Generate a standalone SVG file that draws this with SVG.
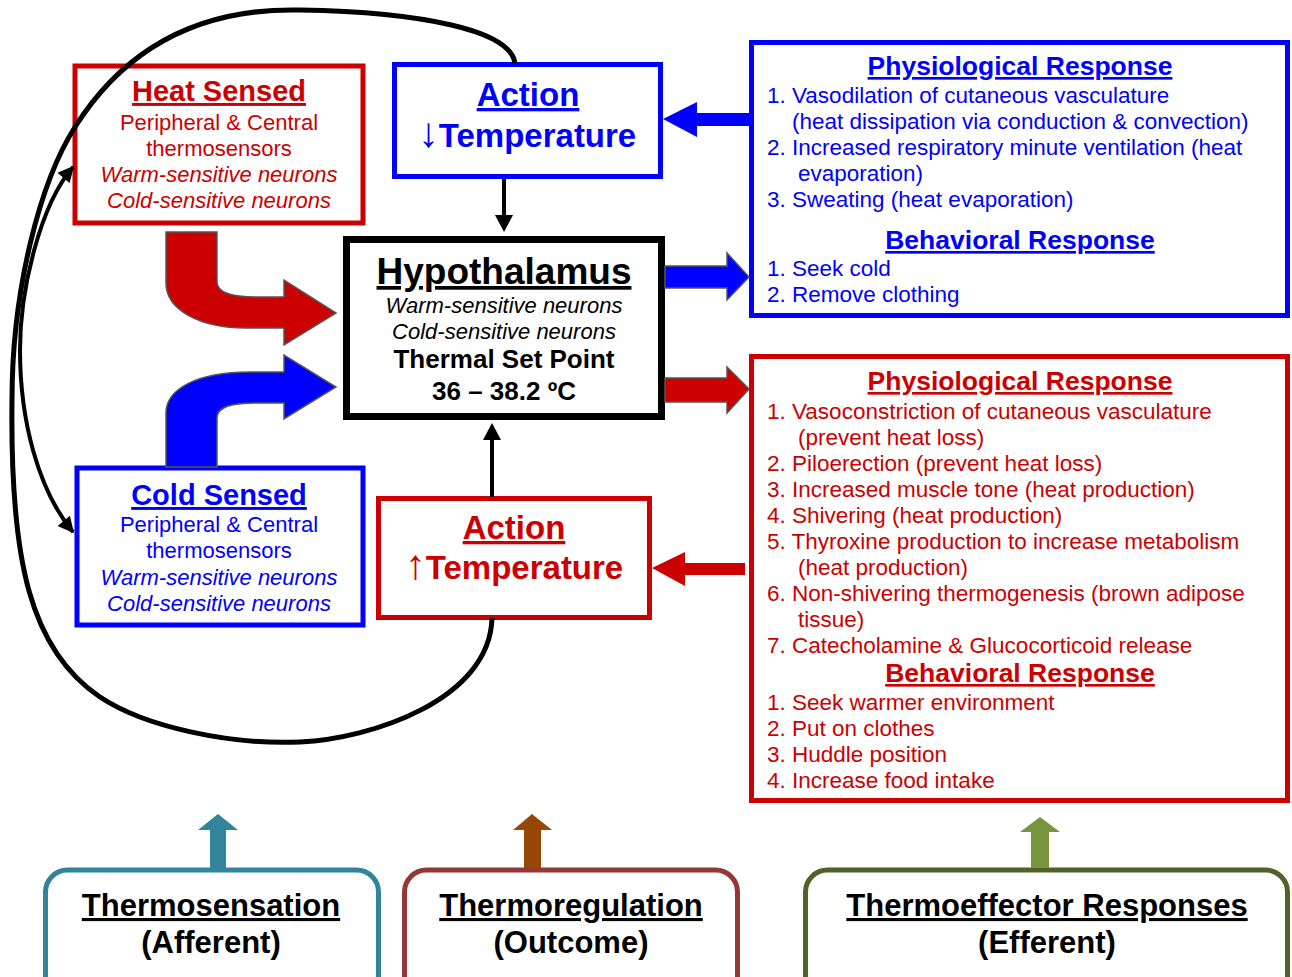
<svg xmlns="http://www.w3.org/2000/svg" width="1292" height="977" viewBox="0 0 1292 977">
<defs>
<style>
text{font-family:"Liberation Sans",Arial,sans-serif;}
.c{text-anchor:middle;}
.bd{font-weight:bold;}
.it{font-style:italic;}
.u{text-decoration:underline;text-decoration-thickness:3px;}
.red{fill:#CC0000;}
.blue{fill:#0000FF;}
.blk{fill:#000000;}
.box{fill:#FFFFFF;stroke-width:5;}
.rb{stroke:#CC0000;}
.bb{stroke:#0000FF;}
.t22{font-size:22px;}
.t225{font-size:22.5px;}
.h26{font-size:26.5px;font-weight:bold;text-decoration:underline;text-decoration-thickness:3px;}
.arw{font-family:"Liberation Sans",Arial,sans-serif;font-weight:bold;font-size:42px;}
.blk-arrow{stroke:#555555;stroke-width:1.5;stroke-linejoin:miter;}
.bot{fill:#FFFFFF;stroke-width:5;}
.bt{font-size:31px;font-weight:bold;fill:#000;text-anchor:middle;}
</style>
<marker id="ah" viewBox="0 0 10 10" refX="9" refY="5" markerWidth="18" markerHeight="16" markerUnits="userSpaceOnUse" orient="auto-start-reverse">
<path d="M0,0 L10,5 L0,10 Z" fill="#000"/>
</marker>
</defs>
<rect width="1292" height="977" fill="#FFFFFF"/>

<g id="heat-sensed">
<rect class="box rb" x="75" y="66" width="288" height="157"/>
<text class="c bd u red" x="219" y="101" font-size="29">Heat Sensed</text>
<text class="c red t22" x="219" y="130">Peripheral &amp; Central</text>
<text class="c red t22" x="219" y="156">thermosensors</text>
<text class="c red t22 it" x="219" y="182">Warm-sensitive neurons</text>
<text class="c red t22 it" x="219" y="208">Cold-sensitive neurons</text>
</g>

<g id="cold-sensed">
<rect class="box bb" x="77" y="468" width="286" height="157"/>
<text class="c bd u blue" x="219" y="505" font-size="29">Cold Sensed</text>
<text class="c blue t22" x="219" y="532">Peripheral &amp; Central</text>
<text class="c blue t22" x="219" y="558">thermosensors</text>
<text class="c blue t22 it" x="219" y="585">Warm-sensitive neurons</text>
<text class="c blue t22 it" x="219" y="611">Cold-sensitive neurons</text>
</g>

<g id="action-down">
<rect class="box bb" x="394.5" y="64.5" width="266" height="112"/>
<text class="c bd u blue" x="528" y="106" font-size="33">Action</text>
<text class="c bd blue" x="527" y="147" font-size="33"><tspan class="arw">↓</tspan>Temperature</text>
</g>

<g id="action-up">
<rect class="box rb" x="378.5" y="498.5" width="271" height="119"/>
<text class="c bd u red" x="514" y="539" font-size="33">Action</text>
<text class="c bd red" x="514" y="579" font-size="33"><tspan class="arw">↑</tspan>Temperature</text>
</g>

<g id="hypothalamus">
<rect x="346.5" y="239.5" width="315" height="177" fill="#FFFFFF" stroke="#000" stroke-width="7"/>
<text class="c bd u blk" x="504" y="284" font-size="37">Hypothalamus</text>
<text class="c it t22 blk" x="504" y="313">Warm-sensitive neurons</text>
<text class="c it t22 blk" x="504" y="339">Cold-sensitive neurons</text>
<text class="c bd blk" x="504" y="368" font-size="26">Thermal Set Point</text>
<text class="c bd blk" x="504" y="400" font-size="26">36 – 38.2 ºC</text>
</g>

<g id="cooling-response">
<rect class="box bb" x="751.5" y="42.5" width="536" height="273"/>
<text class="c h26 blue" x="1020" y="75">Physiological Response</text>
<text class="blue t225" x="767" y="103">1. Vasodilation of cutaneous vasculature</text>
<text class="blue t225" x="792" y="129">(heat dissipation via conduction &amp; convection)</text>
<text class="blue t225" x="767" y="155">2. Increased respiratory minute ventilation (heat</text>
<text class="blue t225" x="798" y="181">evaporation)</text>
<text class="blue t225" x="767" y="207">3. Sweating (heat evaporation)</text>
<text class="c h26 blue" x="1020" y="249">Behavioral Response</text>
<text class="blue t225" x="767" y="276">1. Seek cold</text>
<text class="blue t225" x="767" y="302">2. Remove clothing</text>
</g>

<g id="warming-response">
<rect class="box rb" x="751.5" y="356.5" width="536" height="444"/>
<text class="c h26 red" x="1020" y="390">Physiological Response</text>
<text class="red t225" x="767" y="419">1. Vasoconstriction of cutaneous vasculature</text>
<text class="red t225" x="798" y="445">(prevent heat loss)</text>
<text class="red t225" x="767" y="471">2. Piloerection (prevent heat loss)</text>
<text class="red t225" x="767" y="497">3. Increased muscle tone (heat production)</text>
<text class="red t225" x="767" y="523">4. Shivering (heat production)</text>
<text class="red t225" x="767" y="549">5. Thyroxine production to increase metabolism</text>
<text class="red t225" x="798" y="575">(heat production)</text>
<text class="red t225" x="767" y="601">6. Non-shivering thermogenesis (brown adipose</text>
<text class="red t225" x="798" y="627">tissue)</text>
<text class="red t225" x="767" y="653">7. Catecholamine &amp; Glucocorticoid release</text>
<text class="c h26 red" x="1020" y="682">Behavioral Response</text>
<text class="red t225" x="767" y="710">1. Seek warmer environment</text>
<text class="red t225" x="767" y="736">2. Put on clothes</text>
<text class="red t225" x="767" y="762">3. Huddle position</text>
<text class="red t225" x="767" y="788">4. Increase food intake</text>
</g>

<g id="thermosensation">
<rect class="bot" x="45.5" y="870" width="333" height="130" rx="22" stroke="#31849B"/>
<text class="bt u" x="211" y="916">Thermosensation</text>
<text class="bt" x="211" y="953">(Afferent)</text>
</g>

<g id="thermoregulation">
<rect class="bot" x="404.5" y="870" width="333" height="130" rx="22" stroke="#953735"/>
<text class="bt u" x="571" y="916">Thermoregulation</text>
<text class="bt" x="571" y="953">(Outcome)</text>
</g>

<g id="thermoeffector">
<rect class="bot" x="805.5" y="870" width="482" height="130" rx="22" stroke="#4F6228"/>
<text class="bt u" x="1047" y="916">Thermoeffector Responses</text>
<text class="bt" x="1047" y="953">(Efferent)</text>
</g>

<g id="connectors">
<path d="M515,64 C512,30 420,12 300,10 C210,8 130,40 75,127 C40,182 12,290 12,400 C10,560 30,650 100,697 C145,727 230,745 300,742 C370,739 490,700 492,618" fill="none" stroke="#000" stroke-width="5"/>
<path d="M73,167 C40,205 20,290 20,350 C20,420 38,490 73,532" fill="none" stroke="#000" stroke-width="4" marker-start="url(#ah)" marker-end="url(#ah)"/>
<line x1="504" y1="179" x2="504" y2="216" stroke="#000" stroke-width="4"/>
<polygon points="495,215 513,215 504,232" fill="#000"/>
<line x1="492" y1="497" x2="492" y2="438" stroke="#000" stroke-width="4"/>
<polygon points="483,440 501,440 492,423" fill="#000"/>
<path class="blk-arrow" d="M166,232 L217,232 L217,282 C217,292 230,297 257,297 L284,297 L284,280 L336,313 L284,345 L284,328 L246,328 C200,328 166,310 166,283 Z" fill="#CC0000"/>
<path class="blk-arrow" d="M166,467 L217,467 L217,418 C217,408 228,403 255,403 L284,403 L284,419 L336,387 L284,355 L284,372 L250,372 C195,372 166,390 166,413 Z" fill="#0000FF"/>
<polygon class="blk-arrow" points="665,266 727,266 727,253 749,277 727,300 727,288 665,288" fill="#0000FF"/>
<polygon class="blk-arrow" points="665,378 727,378 727,367 749,389 727,413 727,402 665,402" fill="#CC0000"/>
<polygon points="750,113 697,113 697,102 663,119 697,137 697,126 750,126" fill="#0000FF"/>
<polygon points="745,563 685,563 685,552 652,568 685,586 685,575 745,575" fill="#CC0000"/>
<polygon points="210,868 210,830 198,830 218,814 238,830 226,830 226,868" fill="#31849B"/>
<polygon points="524,868 524,830 513,830 532,814 552,830 541,830 541,868" fill="#984806"/>
<polygon points="1031,868 1031,832 1020,832 1040,817 1060,832 1049,832 1049,868" fill="#77933C"/>
</g>
</svg>
